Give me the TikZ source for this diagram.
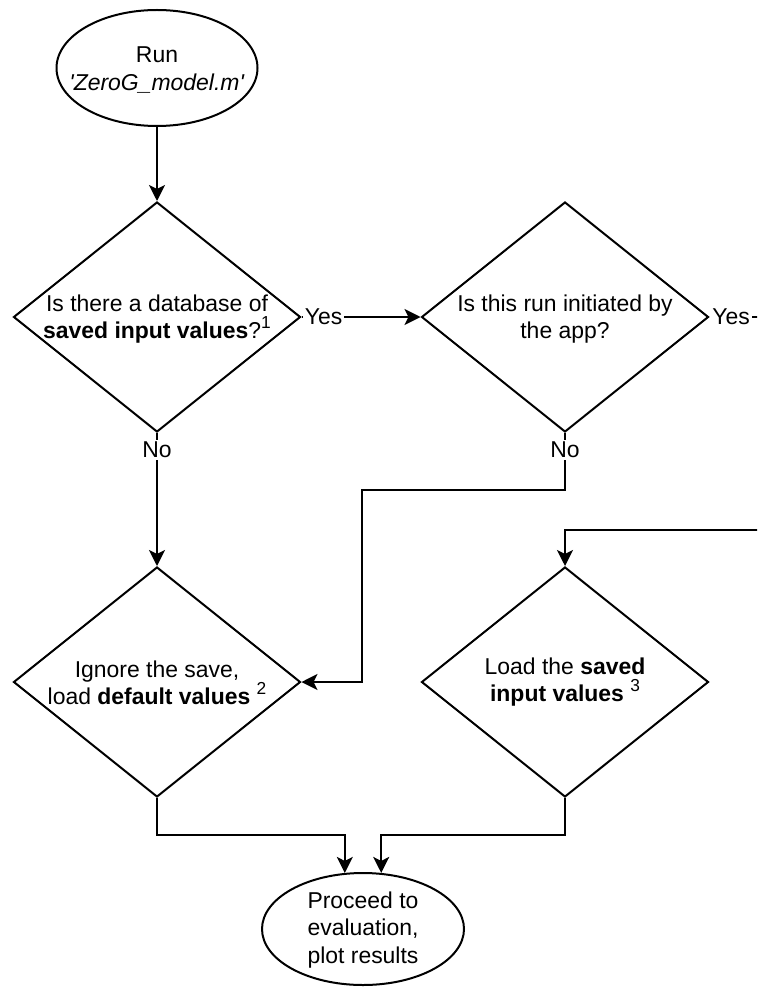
\documentclass[tikz,border=0pt]{standalone}
\usepackage{fontspec}
\setmainfont{Liberation Sans}
\usetikzlibrary{shapes.geometric,arrows.meta}
\newcommand{\supnum}[1]{\raisebox{0.45em}{\fontsize{13pt}{13pt}\selectfont #1}}
\begin{document}
\begin{tikzpicture}[x=0.75pt,y=-0.75pt,
  line width=1.5pt,
  every node/.style={font=\fontsize{17.2pt}{20.5pt}\selectfont},
  term/.style={ellipse,draw,inner sep=0pt},
  decision/.style={diamond,draw,inner sep=0pt,minimum width=215.25pt,minimum height=172.5pt},
  txt/.style={align=center,inner sep=0pt},
  lbl/.style={fill=white,inner sep=1.5pt},
  arr/.style={-{Stealth[length=12pt,width=12pt,inset=3pt]}}
]
\useasboundingbox (0,0) rectangle (757,987);
\clip (0,0) rectangle (757,987);

% shapes
\node[term, minimum width=150.75pt, minimum height=87pt] (start) at (157,68) {};
\node[txt] (starttxt) at (157,70) {Run\\\textit{\textquotesingle ZeroG\_model.m\textquotesingle}};

\node[decision] (d1) at (157,317) {};
\node[txt] (d1txt) at (157,319) {Is there a database of\\\textbf{saved input values}?\supnum{1}};

\node[decision] (d2) at (565,317) {};
\node[txt] (d2txt) at (565,319) {Is this run initiated by\\the app?};

\node[decision] (d3) at (157,682) {};
\node[txt] (d3txt) at (157,683) {Ignore the save,\\load \textbf{default values} \supnum{2}};

\node[decision] (d4) at (565,682) {};
\node[txt] (d4txt) at (565,682) {Load the \textbf{saved}\\\textbf{input values} \supnum{3}};

\node[term, minimum width=151.5pt, minimum height=84pt] (end) at (363,929) {};
\node[txt] (endtxt) at (363,930) {Proceed to\\evaluation,\\plot results};

% connectors
\draw[arr] (start.south) -- (d1.north);
\draw[arr] (d1.east) -- (d2.west);
\draw[arr] (d1.south) -- (d3.north);
\draw[arr] (d2.south) |- (362,490) |- (d3.east);
\coordinate (off) at (800,530);
\draw[arr] (d2.east) -| (off) -| (d4.north);
\draw[arr] (d3.south) -- ++(0,37) -| (end.108);
\draw[arr] (d4.south) -- ++(0,37) -| (end.72);

% labels
\node[lbl] (yes1) at (323.5,317) {Yes};
\node[lbl] (no1) at (157,450) {No};
\node[lbl] (no2) at (565,450) {No};
\node[lbl] (yes2) at (731,317) {Yes};
\end{tikzpicture}
\end{document}
